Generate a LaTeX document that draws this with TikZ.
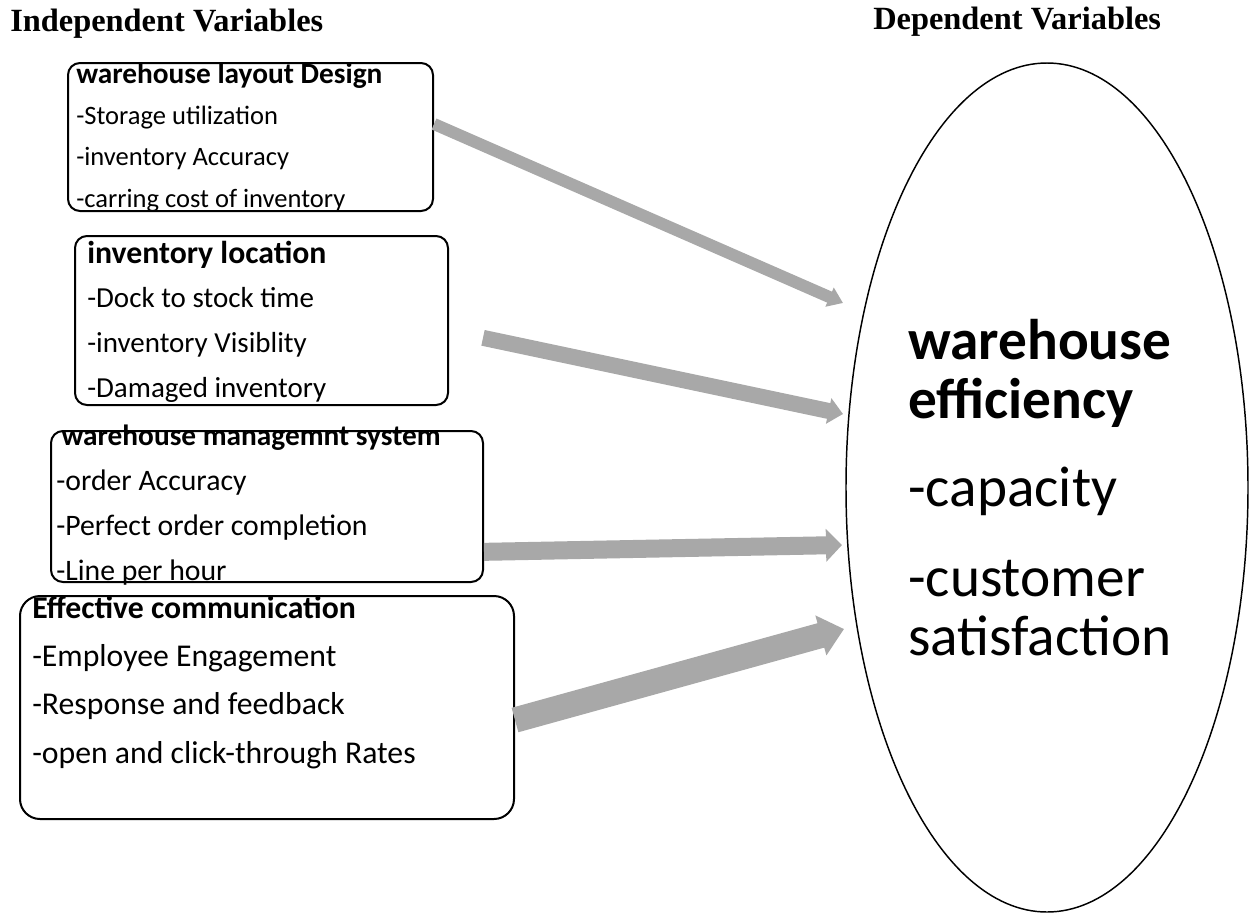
\documentclass[tikz,border=0pt]{standalone}
\usepackage{fontspec}
\setmainfont{Liberation Serif}
\newfontfamily\calibri{Carlito}
\usetikzlibrary{positioning,shapes,fit,arrows.meta}
\definecolor{arrowgray}{RGB}{168,168,168}
\newcommand{\boxtitle}[2]{{\fontsize{#1}{#1}\selectfont\bfseries #2}}

\begin{document}
\begin{tikzpicture}[x=0.75pt, y=-0.75pt,
      varbox/.style={draw, line width=1.5pt, rounded corners=9pt, inner sep=0pt},
      vartext/.style={anchor=base west, align=left, inner sep=0pt},
      heading/.style={anchor=base west, inner sep=0pt, font=\bfseries\fontsize{24.3}{28}\selectfont},
      link/.style={draw=arrowgray, line width=#1}]
      \useasboundingbox (0,0) rectangle (1254,915);
      \node[heading] (indep) at (10,31) {Independent Variables};
      \node[heading] (dep) at (873,29) {Dependent Variables};

      \node[varbox, fit={(68,63) (433,211)}] (layout) {};
      \node[vartext, font=\calibri\fontsize{19.9}{30.8}\selectfont] (layouttxt) at (76,207)
            {\boxtitle{22}{warehouse layout Design}\\-Storage utilization\\-inventory Accuracy\\-carring cost of inventory};
      \node[varbox, fit={(75,236) (448,405)}] (loc) {};
      \node[vartext, font=\calibri\fontsize{21.75}{33.5}\selectfont] (loctxt) at (87,397)
            {\boxtitle{23.8}{inventory location}\\-Dock to stock time\\-inventory Visiblity\\-Damaged inventory};
      \node[varbox, fit={(51,431) (483,582)}] (wms) {};
      \node[vartext, font=\calibri\fontsize{22.3}{33.75}\selectfont] (wmstxt) at (56,580)
            {\hspace*{4pt}\boxtitle{22}{warehouse managemnt system}\\-order Accuracy\\-Perfect order completion\\-Line per hour};
      \node[varbox, rounded corners=15pt, fit={(20,596) (514,819)}] (comm) {};
      \node[vartext, font=\calibri\fontsize{23.8}{36.2}\selectfont] (commtxt) at (32,763)
            {\boxtitle{23.8}{Effective communication}\\-Employee Engagement\\-Response and feedback\\-open and click-through Rates};

      \node[draw, ellipse, line width=1.1pt, minimum width=301.5pt, minimum height=636.75pt, inner sep=0pt] (eff) at (1047,487.5) {};
      \node[vartext, font=\calibri\fontsize{43}{44.25}\selectfont] (efftxt) at (908,655)
            {\textbf{warehouse}\\\textbf{efficiency}\\[21.75pt]-capacity\\[23pt]-customer\\satisfaction};

      \coordinate (in1) at (843,303);
      \coordinate (in2) at (843,414);
      \coordinate (in3) at (842,545);
      \coordinate (in4) at (844,629);
      \draw[link=9pt, -{Triangle[length=11pt, width=15pt]}] ([yshift=9.75pt]layout.east) -- (in1);
      \draw[link=12pt, -{Triangle[length=11pt, width=19pt]}] ([xshift=25.5pt, yshift=-13pt]loc.east) -- (in2);
      \draw[link=13.5pt, -{Triangle[length=12pt, width=24pt]}] ([yshift=-34pt]wms.east) -- (in3);
      \draw[link=19pt, -{Triangle[length=18pt, width=30pt]}] ([yshift=-9.4pt]comm.east) -- (in4);
\end{tikzpicture}
\end{document}
